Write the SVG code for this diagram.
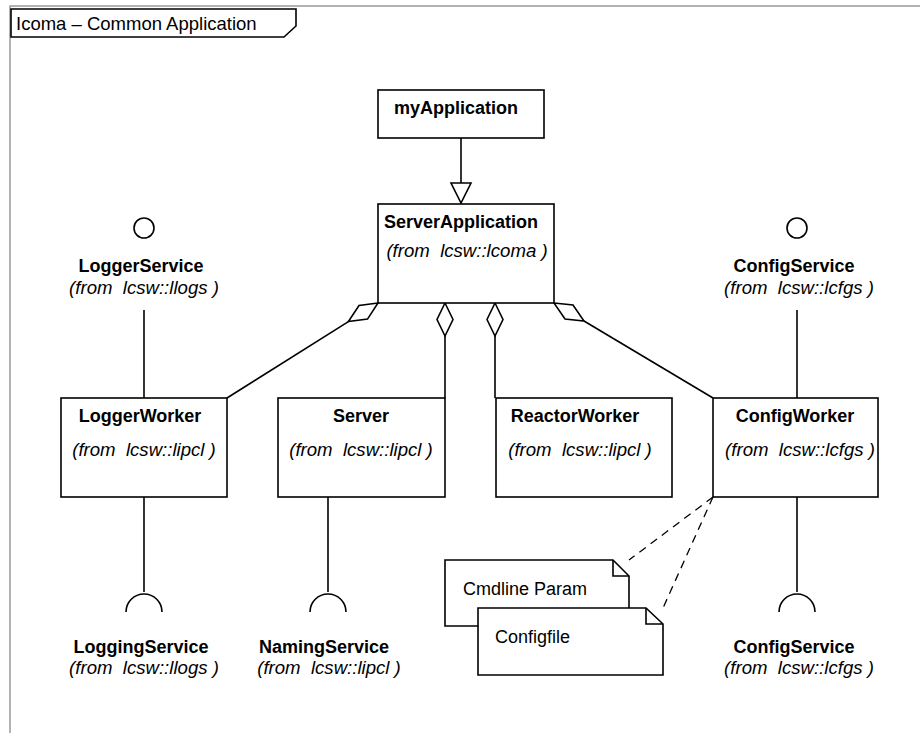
<svg xmlns="http://www.w3.org/2000/svg" width="920" height="733" viewBox="0 0 920 733">
  <style>
    text { font-family: "Liberation Sans", Arial, sans-serif; font-size: 18px; fill: #000; white-space: pre; }
    .b { font-weight: bold; text-anchor: middle; }
    .i { font-style: italic; text-anchor: middle; font-size: 18.6px; }
    .box { fill: #fff; stroke: #000; stroke-width: 1.6; }
    .ln { fill: none; stroke: #000; stroke-width: 1.6; }
    .dia { fill: #fff; stroke: #000; stroke-width: 1.6; stroke-linejoin: miter; }
    .dash { fill: none; stroke: #000; stroke-width: 1.3; stroke-dasharray: 8 6; }
  </style>

  <rect width="920" height="733" fill="#fff"/>

  <!-- diagram frame and name tab -->
  <g id="frame">
    <path d="M10,733 V6 H920" fill="none" stroke="#9a9a9a" stroke-width="1.5"/>
    <path d="M11,9 H296 V26 L284,37 H11 Z" fill="#fff" stroke="#000" stroke-width="1.6"/>
    <text x="16" y="30" style="font-size:18.5px">Icoma – Common Application</text>
  </g>

  <!-- connectors -->
  <g id="connectors">
    <!-- generalization -->
    <line class="ln" x1="461" y1="138" x2="461" y2="183"/>
    <polygon class="dia" points="451,183 471,183 461,203"/>

    <!-- aggregations from ServerApplication -->
    <line class="ln" x1="348.4" y1="321.6" x2="227" y2="398"/>
    <polygon class="dia" points="378,303 359,305.5 348.4,321.6 367.5,319.1"/>
    <line class="ln" x1="445" y1="336" x2="445" y2="398"/>
    <polygon class="dia" points="445,303 453,319.5 445,336 437,319.5"/>
    <line class="ln" x1="495" y1="336" x2="495" y2="398"/>
    <polygon class="dia" points="495,303 503,319.5 495,336 487,319.5"/>
    <line class="ln" x1="584" y1="321" x2="713" y2="398"/>
    <polygon class="dia" points="554,303 573,305 584,321 565,319"/>

    <!-- realized interfaces -->
    <line class="ln" x1="144" y1="310" x2="144" y2="398"/>
    <line class="ln" x1="797" y1="310" x2="797" y2="398"/>

    <!-- required interfaces -->
    <line class="ln" x1="144" y1="497" x2="144" y2="592"/>
    <path class="ln" d="M126,612 A18,18 0 1 1 162,612"/>
    <line class="ln" x1="328" y1="497" x2="328" y2="592"/>
    <path class="ln" d="M310,612 A18,18 0 1 1 346,612"/>
    <line class="ln" x1="797" y1="497" x2="797" y2="592"/>
    <path class="ln" d="M779,612 A18,18 0 1 1 815,612"/>

    <!-- note anchors -->
    <line class="dash" x1="713" y1="497" x2="629" y2="560"/>
    <line class="dash" x1="713" y1="497" x2="663" y2="608"/>
  </g>

  <g id="myApplication">
    <rect class="box" x="378" y="90" width="166" height="48"/>
    <text class="b" x="456" y="114">myApplication</text>
  </g>

  <g id="ServerApplication">
    <rect class="box" x="378" y="204" width="176" height="99"/>
    <text class="b" x="461" y="228">ServerApplication</text>
    <text class="i" x="467" y="257">(from  lcsw::lcoma )</text>
  </g>

  <g id="LoggerService">
    <circle cx="144" cy="228" r="10" fill="#fff" stroke="#000" stroke-width="1.6"/>
    <text class="b" x="141" y="272">LoggerService</text>
    <text class="i" x="144" y="294">(from  lcsw::llogs )</text>
  </g>

  <g id="ConfigServiceProvided">
    <circle cx="797" cy="228" r="10" fill="#fff" stroke="#000" stroke-width="1.6"/>
    <text class="b" x="794" y="272">ConfigService</text>
    <text class="i" x="799" y="294">(from  lcsw::lcfgs )</text>
  </g>

  <g id="LoggerWorker">
    <rect class="box" x="61" y="398" width="166" height="99"/>
    <text class="b" x="140" y="422">LoggerWorker</text>
    <text class="i" x="144" y="456">(from  lcsw::lipcl )</text>
  </g>

  <g id="Server">
    <rect class="box" x="278" y="398" width="167" height="99"/>
    <text class="b" x="361" y="422">Server</text>
    <text class="i" x="361" y="456">(from  lcsw::lipcl )</text>
  </g>

  <g id="ReactorWorker">
    <rect class="box" x="496" y="398" width="176" height="99"/>
    <text class="b" x="575" y="422">ReactorWorker</text>
    <text class="i" x="580" y="456">(from  lcsw::lipcl )</text>
  </g>

  <g id="ConfigWorker">
    <rect class="box" x="713" y="398" width="165" height="99"/>
    <text class="b" x="795" y="422">ConfigWorker</text>
    <text class="i" x="800" y="456">(from  lcsw::lcfgs )</text>
  </g>

  <g id="LoggingService">
    <text class="b" x="141" y="653">LoggingService</text>
    <text class="i" x="144" y="674">(from  lcsw::llogs )</text>
  </g>

  <g id="NamingService">
    <text class="b" x="324" y="653">NamingService</text>
    <text class="i" x="329" y="674">(from  lcsw::lipcl )</text>
  </g>

  <g id="ConfigServiceRequired">
    <text class="b" x="794" y="653">ConfigService</text>
    <text class="i" x="799" y="674">(from  lcsw::lcfgs )</text>
  </g>

  <g id="CmdlineParam">
    <path class="box" d="M445,560 H613 L629,576 V626 H445 Z"/>
    <path class="ln" d="M613,560 V576 H629"/>
    <text x="463" y="595">Cmdline Param</text>
  </g>

  <g id="Configfile">
    <path class="box" d="M478,608 H646 L663,624 V675 H478 Z"/>
    <path class="ln" d="M646,608 V624 H663"/>
    <text x="495" y="643">Configfile</text>
  </g>
</svg>
